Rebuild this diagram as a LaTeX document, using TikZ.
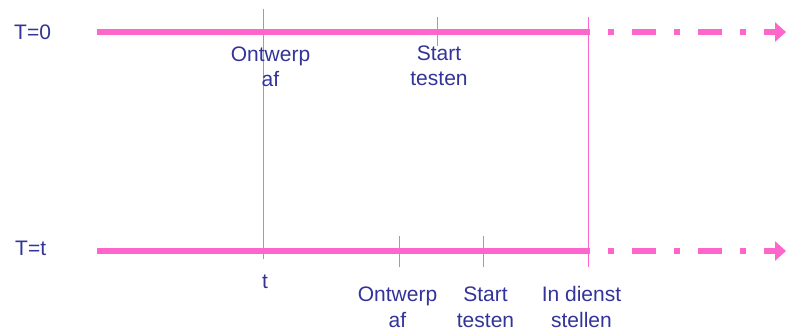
\documentclass[tikz,border=0pt]{standalone}
\usepackage{fontspec}
\setmainfont{Liberation Sans}
\usetikzlibrary{arrows.meta}
\definecolor{linepink}{HTML}{FF66CC}
\definecolor{labelblue}{HTML}{333399}
\begin{document}
\begin{tikzpicture}[x=1pt,y=-1pt,
  timeline/.style={draw=linepink,line width=6pt,line cap=butt},
  future/.style={timeline,dash pattern=on 6pt off 18pt on 24pt off 18pt,dash phase=48pt},
  marker/.style={draw=linepink,line width=1pt},
  lbl/.style={text=labelblue,inner sep=0pt,align=center,anchor=base,
    font=\fontsize{21}{25.5}\selectfont},
  rowlbl/.style={lbl,anchor=base west}]
\useasboundingbox (0,0) rectangle (786,334);

% time axes
\coordinate (a0) at (97,32);  \coordinate (a1) at (590,32);
\coordinate (a2) at (764,32); \coordinate (a3) at (786,32);
\coordinate (b0) at (97,251); \coordinate (b1) at (590,251);
\coordinate (b2) at (764,251); \coordinate (b3) at (786,251);

\draw[timeline] (a0) -- (a1);
\draw[future] (a1) -- (a2);
\draw[timeline,-{Triangle[length=11pt,width=19pt]}] (a2) -- (a3);
\draw[timeline] (b0) -- (b1);
\draw[future] (b1) -- (b2);
\draw[timeline,-{Triangle[length=11pt,width=19pt]}] (b2) -- (b3);

% markers
\coordinate (m1s) at (263,9);   \coordinate (m1e) at (263,259);
\coordinate (m2s) at (588,17);  \coordinate (m2e) at (588,267);
\coordinate (m3s) at (437,17);  \coordinate (m3e) at (437,46);
\coordinate (m4s) at (399,236); \coordinate (m4e) at (399,267);
\coordinate (m5s) at (483,236); \coordinate (m5e) at (483,267);
\draw[marker] (m1s) -- (m1e);
\draw[marker] (m2s) -- (m2e);
\draw[marker] (m3s) -- (m3e);
\draw[marker] (m4s) -- (m4e);
\draw[marker] (m5s) -- (m5e);

% labels (two-line labels are anchored at the baseline of their last line)
\node[rowlbl] (t0) at (14,40) {T=0};
\node[rowlbl] (tt) at (15,255) {T=t};
\node[lbl] (ont0) at (270.5,87) {Ontwerp\\af};
\node[lbl] (test0) at (439,86) {Start\\testen};
\node[lbl] (tmark) at (265,288) {t};
\node[lbl] (ont1) at (397.5,327) {Ontwerp\\af};
\node[lbl] (test1) at (485.5,327) {Start\\testen};
\node[lbl] (dienst) at (581.5,327) {In dienst\\stellen};
\end{tikzpicture}
\end{document}
